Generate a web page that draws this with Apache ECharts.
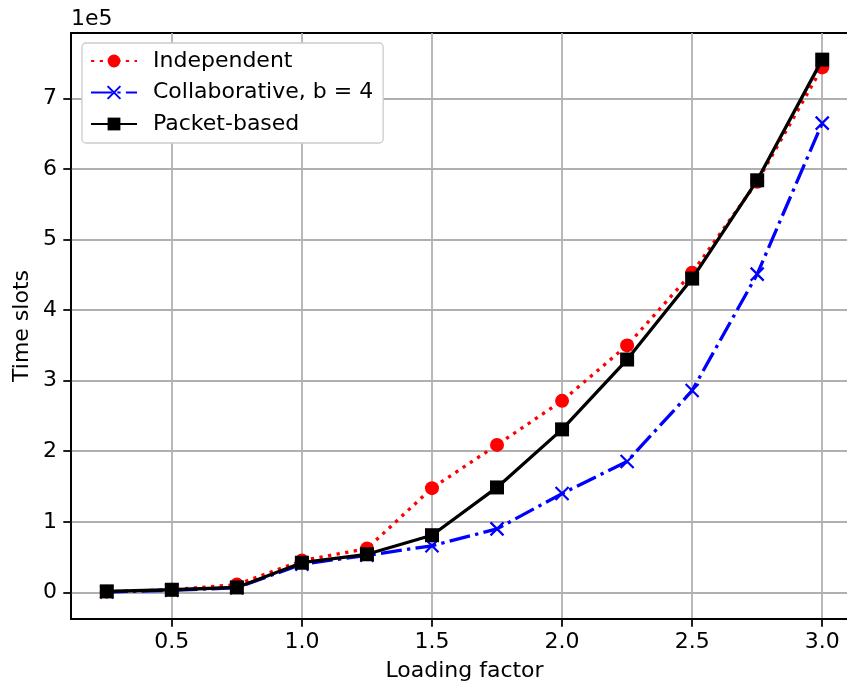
<!DOCTYPE html>
<html>
<head>
<meta charset="utf-8">
<script src="https://cdn.jsdelivr.net/npm/echarts@6/dist/echarts.min.js"></script>
<style>
html,body{margin:0;padding:0;background:#fff;}
#chart{width:847px;height:684px;}
</style>
</head>
<body>
<div id="chart"></div>
<script>
const loadingFactor = [0.25, 0.5, 0.75, 1.0, 1.25, 1.5, 1.75, 2.0, 2.25, 2.5, 2.75, 3.0];
const independent = [1000, 3700, 11000, 45000, 62000, 147700, 209000, 271400, 350000, 453000, 582000, 744000];
const collaborative = [500, 3000, 6500, 40000, 52500, 66000, 90000, 140000, 185500, 286000, 451000, 665000];
const packetBased = [1400, 3700, 7000, 42000, 54000, 81000, 148700, 231000, 330000, 444700, 584000, 755000];
const xTicks = [0.5, 1.0, 1.5, 2.0, 2.5, 3.0];
const yTicks = [0, 100000, 200000, 300000, 400000, 500000, 600000, 700000];
const seriesNames = ['Independent', 'Collaborative, b = 4', 'Packet-based'];

const FONT = 'DejaVu Sans';
const pairs = (ys) => loadingFactor.map((x, i) => [x, ys[i]]);

const chart = echarts.init(document.getElementById('chart'), null, {renderer: 'canvas'});
chart.setOption({
  animation: false,
  backgroundColor: '#fff',
  textStyle: {fontFamily: FONT},
  grid: {
    left: 71, top: 33, width: 787, height: 586,
    outerBoundsMode: 'none', containLabel: false,
    show: true, borderColor: '#000', borderWidth: 1.76, backgroundColor: 'transparent'
  },
  legend: {
    orient: 'vertical',
    left: 82, top: 43,
    padding: [7, 10, 8, 8],
    itemGap: 9.5,
    itemWidth: 46, itemHeight: 16,
    backgroundColor: '#fff',
    borderColor: '#cccccc', borderWidth: 1.3, borderRadius: 4,
    textStyle: {fontFamily: FONT, fontSize: 22, color: '#000', padding: [0, 0, 0, 11]},
    data: seriesNames
  },
  xAxis: {
    type: 'value', min: 0.1125, max: 3.1375,
    name: 'Loading factor', nameLocation: 'middle', nameGap: 41,
    nameTextStyle: {fontFamily: FONT, fontSize: 22, color: '#000'},
    axisLine: {show: true, onZero: false, lineStyle: {color: '#000', width: 1.76}},
    axisTick: {show: true, length: 7.7, lineStyle: {color: '#000', width: 1.76}, customValues: xTicks},
    axisLabel: {fontFamily: FONT, fontSize: 22, color: '#000', margin: 12, customValues: xTicks,
      formatter: v => v.toFixed(1)},
    splitLine: {show: true, lineStyle: {color: '#b0b0b0', width: 1.76}}
  },
  yAxis: {
    type: 'value', min: -37750, max: 792750,
    axisLine: {show: true, onZero: false, lineStyle: {color: '#000', width: 1.76}},
    axisTick: {show: true, length: 7.7, lineStyle: {color: '#000', width: 1.76}, customValues: yTicks},
    axisLabel: {fontFamily: FONT, fontSize: 22, color: '#000', margin: 14, customValues: yTicks,
      formatter: v => String(Math.round(v / 100000))},
    splitLine: {show: true, lineStyle: {color: '#b0b0b0', width: 1.76}}
  },
  graphic: [
    {type: 'text', left: 71, top: 8, style: {text: '1e5', font: '22px "DejaVu Sans"', fill: '#000'}},
    {type: 'text', x: 22, y: 326, rotation: Math.PI / 2,
      style: {text: 'Time slots', font: '22px "DejaVu Sans"', fill: '#000', align: 'center', verticalAlign: 'middle'}}
  ],
  series: [
    {
      name: seriesNames[0], type: 'line', data: pairs(independent),
      symbol: 'circle', symbolSize: 14,
      itemStyle: {color: '#ff0000'},
      lineStyle: {color: '#ff0000', width: 3.3, type: [3.3, 5.4]},
      z: 2
    },
    {
      name: seriesNames[1], type: 'line', data: pairs(collaborative),
      symbol: 'path://M0,0L10,10M10,0L0,10', symbolSize: 13,
      itemStyle: {color: '#0000ff', borderColor: '#0000ff', borderWidth: 2.2},
      lineStyle: {color: '#0000ff', width: 3.3, type: [21, 5.3, 3.3, 5.3]},
      z: 3
    },
    {
      name: seriesNames[2], type: 'line', data: pairs(packetBased),
      symbol: 'rect', symbolSize: 14,
      itemStyle: {color: '#000000'},
      lineStyle: {color: '#000000', width: 3.3},
      z: 4
    }
  ]
});
</script>
</body>
</html>
